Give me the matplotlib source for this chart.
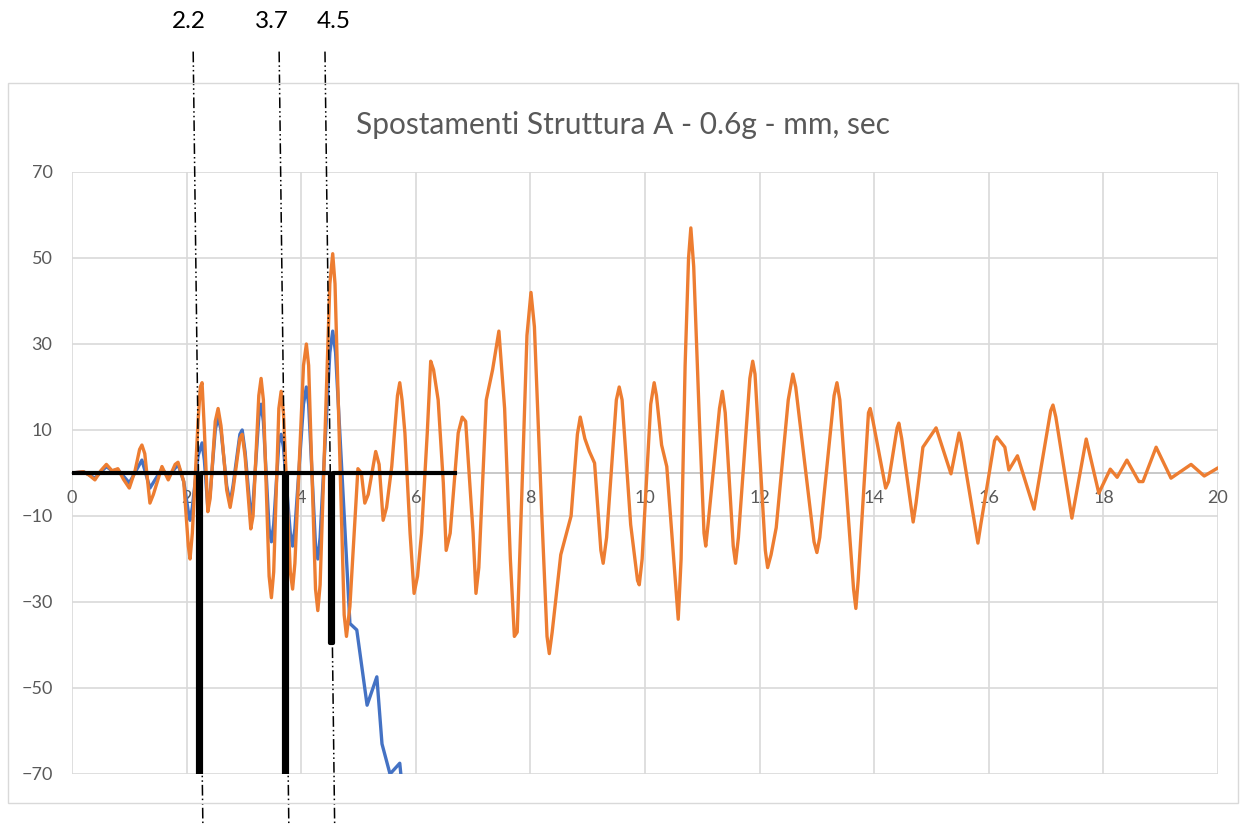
import matplotlib.pyplot as plt
import numpy as np

# Spostamenti nel tempo (s -> mm)
t_orange = [0.0, 0.2, 0.3, 0.4, 0.5, 0.6, 0.7, 0.8, 0.9, 1.0, 1.1, 1.18, 1.22, 1.27,
            1.36, 1.42, 1.57, 1.68, 1.8, 1.85, 1.95, 2.03, 2.06, 2.1, 2.2, 2.24, 2.27,
            2.31, 2.37, 2.41, 2.5, 2.55, 2.6, 2.7, 2.76, 2.81, 2.93, 2.97, 3.02, 3.12,
            3.16, 3.26, 3.3, 3.34, 3.44, 3.48, 3.52, 3.61, 3.65, 3.69, 3.81, 3.85,
            3.89, 4.04, 4.09, 4.13, 4.25, 4.29, 4.33, 4.5, 4.55, 4.59, 4.75, 4.79,
            4.85, 4.99, 5.05, 5.11, 5.17, 5.3, 5.36, 5.43, 5.49, 5.58, 5.68, 5.72,
            5.76, 5.81, 5.9, 5.97, 6.03, 6.1, 6.2, 6.26, 6.31, 6.39, 6.48, 6.53, 6.6,
            6.74, 6.81, 6.87, 7.0, 7.05, 7.1, 7.23, 7.34, 7.45, 7.55, 7.65, 7.72,
            7.77, 7.85, 7.94, 8.01, 8.07, 8.2, 8.29, 8.33, 8.38, 8.53, 8.71, 8.82,
            8.87, 8.95, 9.03, 9.12, 9.23, 9.27, 9.33, 9.5, 9.55, 9.6, 9.75, 9.87,
            9.9, 9.95, 10.1, 10.16, 10.2, 10.29, 10.38, 10.5, 10.58, 10.63, 10.7,
            10.76, 10.8, 10.85, 10.95, 11.03, 11.06, 11.1, 11.3, 11.35, 11.4, 11.54,
            11.58, 11.63, 11.83, 11.88, 11.92, 12.1, 12.14, 12.2, 12.29, 12.5, 12.58,
            12.63, 12.95, 13.0, 13.05, 13.3, 13.35, 13.4, 13.64, 13.68, 13.72, 13.9,
            13.93, 13.98, 14.2, 14.25, 14.4, 14.43, 14.48, 14.68, 14.73, 14.85, 15.08,
            15.34, 15.48, 15.52, 15.78, 15.81, 15.86, 16.1, 16.14, 16.28, 16.35, 16.5,
            16.79, 17.08, 17.12, 17.17, 17.45, 17.7, 17.92, 18.12, 18.24, 18.41,
            18.62, 18.69, 18.92, 19.18, 19.53, 19.76, 20.0]
d_orange = [0.0, 0.3, -0.5, -1.6, 0.5, 2.0, 0.5, 1.0, -1.5, -3.5, 0.5, 5.5, 6.5, 4.5,
            -7.0, -5.0, 1.5, -1.6, 2.0, 2.5, -2.0, -17.0, -20.0, -14.0, 12.0, 20.0, 21.0,
            10.0, -9.0, -6.0, 12.0, 15.0, 11.0, -4.0, -8.0, -4.0, 8.0, 9.0, 4.0, -13.0,
            -10.0, 18.0, 22.0, 17.0, -24.0, -29.0, -23.0, 15.0, 19.0, 14.0, -23.0, -27.0,
            -21.0, 25.0, 30.0, 25.0, -27.0, -32.0, -26.0, 44.0, 51.0, 44.0, -33.0, -38.0,
            -31.0, 1.0, 0.0, -7.0, -5.0, 5.0, 2.0, -11.0, -8.0, 1.5, 18.0, 21.0,
            17.0, 9.3, -14.0, -28.0, -24.0, -14.0, 9.3, 26.0, 24.0, 17.0, -2.3, -18.0, -14.0,
            9.3, 13.0, 12.0, -14.0, -28.0, -22.0, 17.0, 24.0, 33.0, 15.0, -20.0, -38.0,
            -37.0, -5.0, 32.0, 42.0, 34.0, -10.0, -38.0, -42.0, -37.0, -19.0, -10.0, 9.0,
            13.0, 8.0, 5.0, 2.3, -18.0, -21.0, -15.0, 17.0, 20.0, 17.0, -12.0, -25.0,
            -26.0, -20.0, 16.0, 21.0, 18.0, 6.5, 1.5, -20.0, -34.0, -20.0, 25.0,
            50.0, 57.0, 48.0, 12.0, -14.0, -17.0, -12.0, 15.0, 19.0, 14.0, -17.0,
            -21.0, -15.0, 22.0, 26.0, 23.0, -18.0, -22.0, -19.0, -12.7, 17.0, 23.0,
            20.0, -16.0, -18.5, -15.0, 18.0, 21.0, 17.0, -27.0, -31.5, -25.0, 14.0,
            15.0, 12.0, -3.5, -2.0, 10.5, 11.6, 8.0, -11.4, -7.0, 6.0, 10.5,
            -0.2, 9.3, 7.0, -14.0, -16.3, -12.0, 7.5, 8.4, 6.0, 0.7, 4.0,
            -8.4, 14.5, 15.8, 13.0, -10.5, 7.9, -4.7, 0.9, -1.0, 3.0,
            -2.0, -2.0, 6.0, -1.2, 2.0, -0.7, 1.2]

t_blue = [0.0, 0.2, 0.4, 0.6, 0.7, 0.8, 1.0, 1.22, 1.36, 1.57, 1.68, 1.85, 1.95,
          2.03, 2.06, 2.1, 2.2, 2.27, 2.31, 2.37, 2.41, 2.5, 2.55, 2.6, 2.7, 2.76,
          2.81, 2.93, 2.97, 3.02, 3.12, 3.16, 3.26, 3.3, 3.34, 3.44, 3.48, 3.52,
          3.61, 3.65, 3.69, 3.81, 3.85, 3.89, 4.04, 4.09, 4.13, 4.25, 4.29, 4.33,
          4.5, 4.55, 4.6, 4.85, 4.97, 5.15, 5.32, 5.41, 5.55, 5.72, 5.85]
d_blue = [0.0, 0.3, -1.2, 1.5, 0.5, 0.8, -2.3, 3.0, -3.5, 1.0, -1.0, 2.0, -2.0,
          -9.0, -11.0, -8.0, 4.0, 7.0, 3.0, -8.0, -5.0, 10.0, 13.0, 10.0, -3.0, -7.0,
          -3.0, 9.0, 10.0, 5.0, -10.0, -7.0, 13.0, 16.0, 12.0, -13.0, -16.0, -12.0,
          7.0, 9.0, 6.0, -14.0, -17.0, -13.0, 16.0, 20.0, 16.0, -17.0, -20.0, -15.0,
          28.0, 33.0, 28.0, -35.0, -36.5, -54.0, -47.4, -63.0, -70.0, -67.5, -85.0]

# serie a gradino: zero con i tagli a 2.2, 3.7, 4.5 s
t_black = [0.0, 2.2, 2.2, 2.25, 2.25, 3.7, 3.7, 3.75, 3.75, 4.5, 4.5, 4.55, 4.55, 6.68]
d_black = [0.0, 0.0, -90.0, -90.0, 0.0, 0.0, -90.0, -90.0, 0.0, 0.0, -39.5, -39.5, 0.0, 0.0]

cut_times = [2.2, 3.7, 4.5]
cut_labels = ["2.2", "3.7", "4.5"]
cut_label_x = [2.04, 3.49, 4.56]

x_ticks = np.arange(0, 21, 2)
y_ticks = np.arange(-70, 71, 20)

title = "Spostamenti Struttura A - 0.6g - mm, sec"
gray = "#595959"

W, H = 1248, 826
fig = plt.figure(figsize=(W / 100, H / 100), dpi=100)
ax = fig.add_axes([72 / W, 52 / H, 1146 / W, 602 / H])

# cornice dell'area grafico
fig.add_artist(plt.Rectangle((8 / W, 23 / H), 1230 / W, 720 / H,
                             transform=fig.transFigure, fill=False,
                             ec="#d9d9d9", lw=1))

line_kw = dict(lw=2.4, solid_joinstyle="round", solid_capstyle="round")
ax.plot(t_blue, d_blue, color="#4472C4", zorder=3, **line_kw)
ax.plot(t_orange, d_orange, color="#ED7D31", zorder=4, **line_kw)
ax.plot(t_black, d_black, color="black", lw=3, zorder=5)

for v in cut_times:
    ax.plot([v - 0.085, v + 0.085], [98, -83], color="black", lw=1.1,
            ls=(0, (7, 2, 1, 2, 1, 2)), clip_on=False, zorder=6)
for x, lab in zip(cut_label_x, cut_labels):
    ax.text(x, 105, lab, ha="center", va="center", fontsize=17.5,
            family="Lato", clip_on=False)

ax.set_xlim(0, 20)
ax.set_ylim(-70, 70)
ax.set_xticks(x_ticks)
ax.set_yticks(y_ticks)
ax.grid(True, color="#d9d9d9", lw=1.2)
ax.set_axisbelow(True)

for side in ["top", "right", "left"]:
    ax.spines[side].set_visible(False)
ax.spines["bottom"].set_position(("data", 0))
ax.spines["bottom"].set_color("#bfbfbf")
ax.spines["bottom"].set_linewidth(1.2)

ax.tick_params(length=0, labelsize=13, labelcolor=gray)
ax.tick_params(axis="x", pad=12)
ax.tick_params(axis="y", pad=14)
for lab in ax.get_xticklabels() + ax.get_yticklabels():
    lab.set_family("Lato")

fig.text(623 / W, 1 - 125 / H, title, ha="center", va="center",
         fontsize=21.5, color=gray, family="Lato")

fig.savefig("out.png", dpi=100)
